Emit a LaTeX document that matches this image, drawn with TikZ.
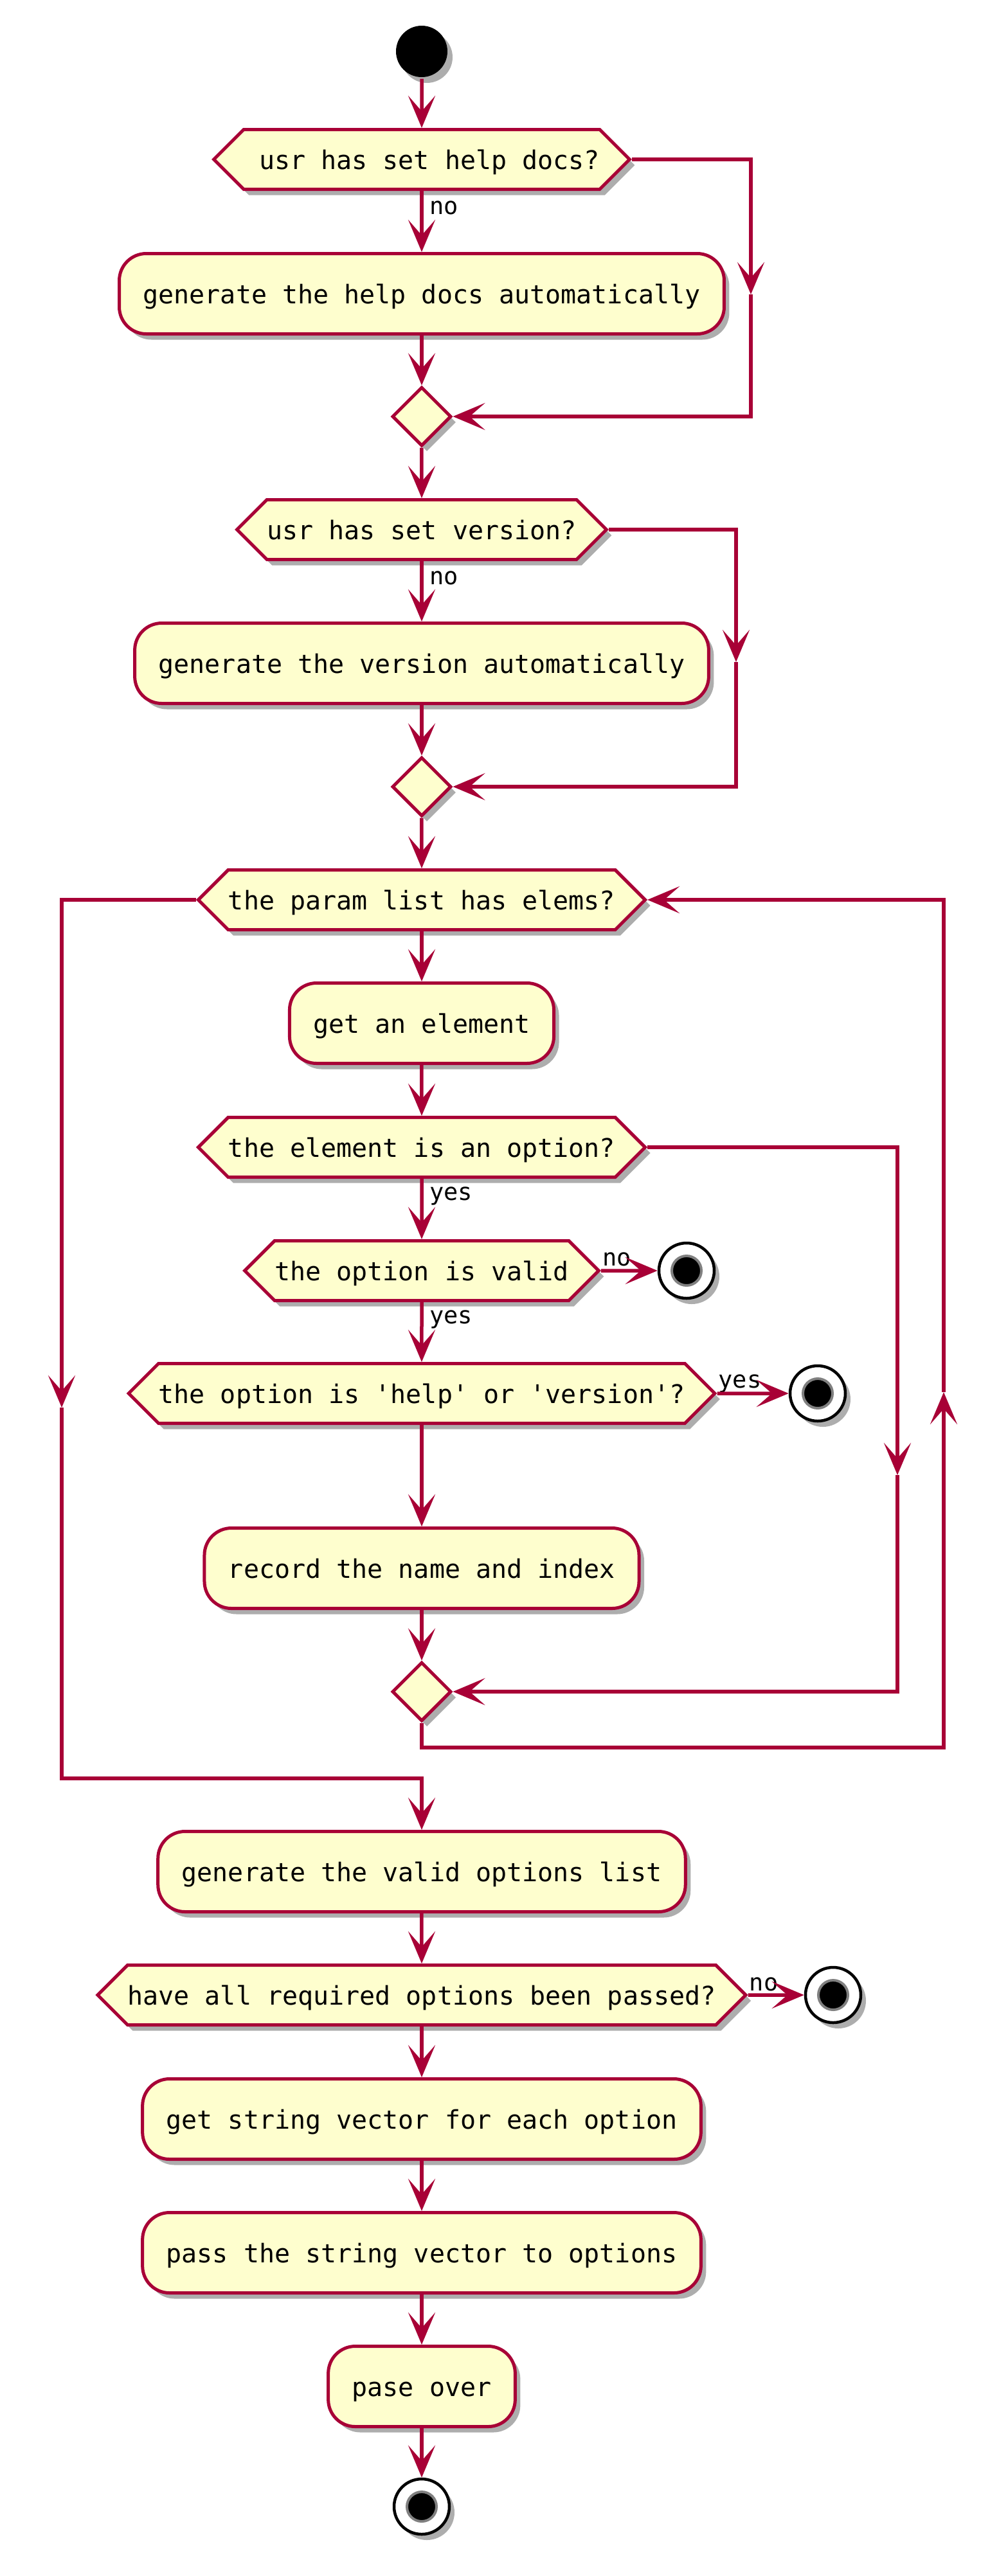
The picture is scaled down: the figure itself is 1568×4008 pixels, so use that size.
\documentclass[tikz,border=0pt]{standalone}
\usepackage{fontspec}
\setmonofont{DejaVu Sans Mono}
\usetikzlibrary{arrows.meta,shapes.geometric,shapes.symbols,shadows}
\definecolor{umlred}{HTML}{A80036}
\definecolor{umlfill}{HTML}{FEFECE}
\tikzset{
        uml_base/.style = {align=center, inner sep=0pt, text centered,
            font=\ttfamily\fontsize{40}{48}\selectfont, line width=5pt,
            text height=30pt, text depth=0pt,
            drop shadow={shadow xshift=8pt, shadow yshift=-9pt,
                fill=black!40, opacity=0.8}},
        uml_act/.style = {uml_base, rectangle, rounded corners=42pt,
            draw=umlred, fill=umlfill, inner xsep=37pt, minimum height=125pt},
        uml_if/.style = {uml_base, signal, signal to=west and east,
            signal pointer angle=90, draw=umlred, fill=umlfill,
            minimum height=93pt},
        uml_merge/.style = {uml_base, diamond, draw=umlred, fill=umlfill,
            minimum size=92pt},
        uml_start/.style = {uml_base, circle, fill=black, minimum size=80pt},
        uml_stop/.style = {uml_base, circle, draw=black, fill=white,
            line width=4.5pt, minimum size=86pt,
            path picture={\fill[black, draw=gray, line width=4pt]
                (path picture bounding box.center) circle (23pt);}},
        uml_lbl/.style = {inner sep=0pt, anchor=base west,
            font=\ttfamily\fontsize{37}{44}\selectfont}
    }
\begin{document}
\begin{tikzpicture}[x=1pt, y=-1pt, ->,
            >={Stealth[length=50pt, width=42pt, inset=24pt]},
            flow/.style = {draw=umlred, line width=5.5pt}]
    \useasboundingbox (0,0) rectangle (1568,4008);
    \node [uml_start] (start) at (656,80) {}; % START
    \node [uml_if] (d1) at (656,248) {~usr has set help docs?};
    \node [uml_act] (a1) at (656,457) {generate the help docs automatically};
    \node [uml_merge] (m1) at (656,648) {};
    \node [uml_if] (d2) at (656,824) {usr has set version?};
    \node [uml_act] (a2) at (656,1032) {generate the version automatically};
    \node [uml_merge] (m2) at (656,1224) {};
    % LOOP
    \node [uml_if] (d3) at (656,1400) {the param list has elems?};
    \node [uml_act] (a3) at (656,1592) {get an element};
    \node [uml_if] (d4) at (656,1785) {the element is an option?};
    \node [uml_if] (d5) at (656,1977) {the option is valid};
    \node [uml_stop] (e1) at (1068,1977) {};
    \node [uml_if] (d6) at (656,2168) {the option is 'help' or 'version'?};
    \node [uml_stop] (e2) at (1272,2168) {};
    \node [uml_act] (a4) at (656,2440) {record the name and index};
    \node [uml_merge] (m3) at (656,2632) {};
    % AFTER LOOP
    \node [uml_act] (a5) at (656,2912) {generate the valid options list};
    \node [uml_if] (d7) at (656,3104) {have all required options been passed?};
    \node [uml_stop] (e3) at (1296,3104) {};
    \node [uml_act] (a6) at (656,3297) {get string vector for each option};
    \node [uml_act] (a7) at (656,3505) {pass the string vector to options};
    \node [uml_act] (a8) at (656,3713) {pase over};
    \node [uml_stop] (e4) at (656,3900) {};

    \coordinate (b1) at (1168,458);
    \coordinate (b2) at (1145,1030);
    \coordinate (b3) at (96,2190);
    \coordinate (c3) at (656,2767);
    \coordinate (b4) at (1396,2295);
    \coordinate (c4) at (656,2719);
    \coordinate (b5) at (1468,2166);

    \node [uml_lbl] (no1) at ([shift={(12,36)}]d1.south) {no};
    \node [uml_lbl] (no2) at ([shift={(12,36)}]d2.south) {no};
    \node [uml_lbl] (yes1) at ([shift={(12,33)}]d4.south) {yes};
    \node [uml_lbl] (no3) at ([shift={(2,-8)}]d5.east) {no};
    \node [uml_lbl] (yes2) at ([shift={(12,33)}]d5.south) {yes};
    \node [uml_lbl] (yes3) at ([shift={(2,-9)}]d6.east) {yes};
    \node [uml_lbl] (no4) at ([shift={(2,-7)}]d7.east) {no};

    \draw [flow] (start) -- (d1);
    \draw [flow] (d1) -- (a1);
    \draw [flow] (d1.east) -| (b1);
    \draw [flow] (b1) |- (m1.east);
    \draw [flow] (a1) -- (m1);
    \draw [flow] (m1) -- (d2);
    \draw [flow] (d2) -- (a2);
    \draw [flow] (d2.east) -| (b2);
    \draw [flow] (b2) |- (m2.east);
    \draw [flow] (a2) -- (m2);
    \draw [flow] (m2) -- (d3);
    \draw [flow] (d3) -- (a3);
    \draw [flow] (d3.west) -| (b3);
    \draw [flow] (b3) |- (c3) -- (a5);
    \draw [flow] (a3) -- (d4);
    \draw [flow] (d4) -- (d5);
    \draw [flow] (d4.east) -| (b4);
    \draw [flow] (b4) |- (m3.east);
    \draw [flow] (d5) -- (e1);
    \draw [flow] (d5) -- (d6);
    \draw [flow] (d6) -- (e2);
    \draw [flow] (d6) -- (a4);
    \draw [flow] (a4) -- (m3);
    \draw [flow] (m3) -- (c4) -| (b5);
    \draw [flow] (b5) |- (d3.east);
    \draw [flow] (a5) -- (d7);
    \draw [flow] (d7) -- (e3);
    \draw [flow] (d7) -- (a6);
    \draw [flow] (a6) -- (a7);
    \draw [flow] (a7) -- (a8);
    \draw [flow] (a8) -- (e4);
\end{tikzpicture}
\end{document}
